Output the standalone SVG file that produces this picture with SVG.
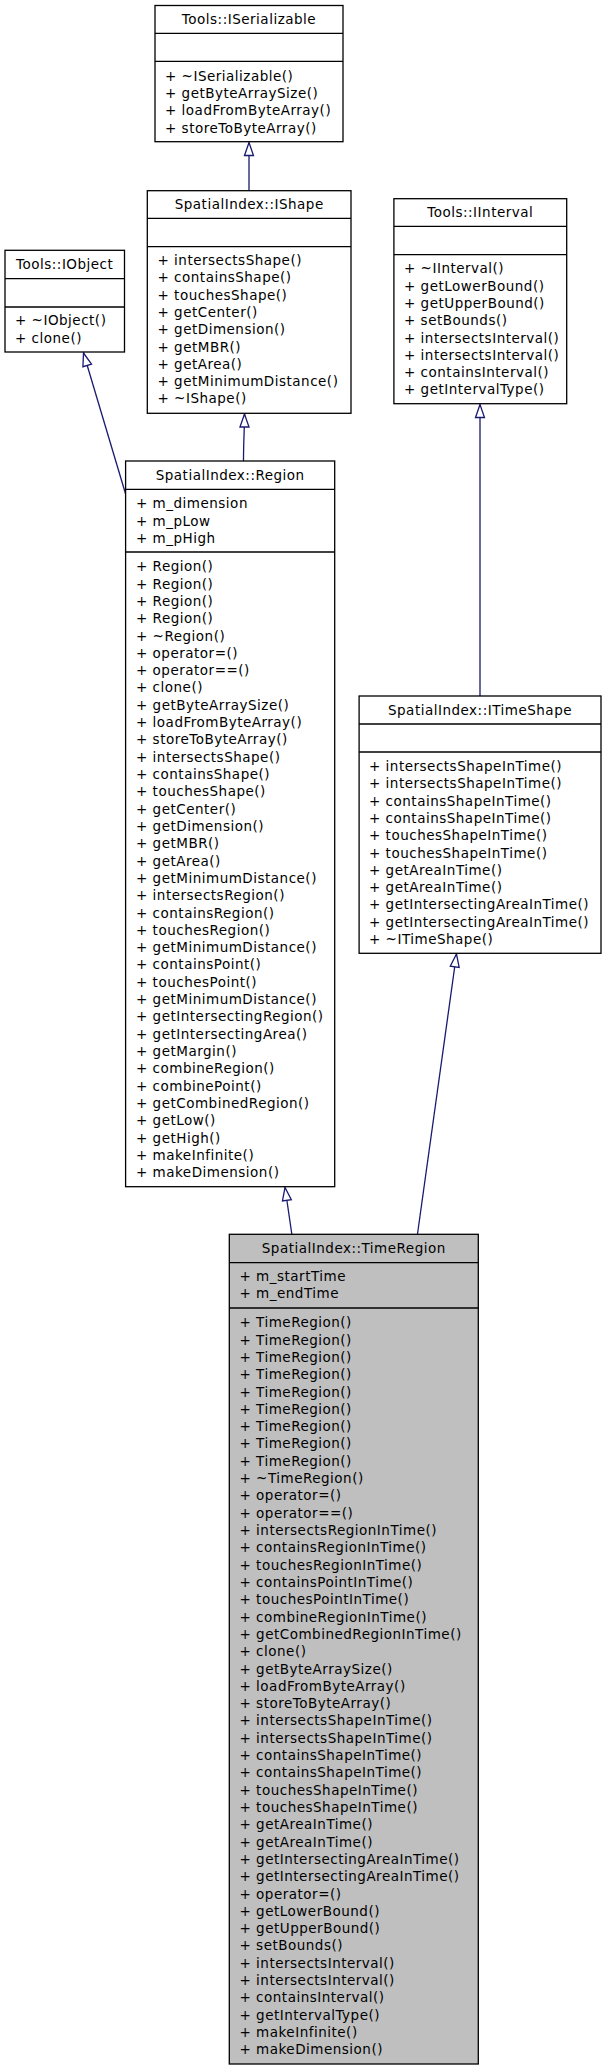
<svg xmlns="http://www.w3.org/2000/svg" width="603" height="2069" viewBox="0 0 603 2069">
<style>
.box{fill:#ffffff;stroke:#000000;stroke-width:1.3}
.grey{fill:#bfbfbf}
.sep{stroke:#000000;stroke-width:1.3}
text{font-family:"DejaVu Sans","Liberation Sans",sans-serif;font-size:13.5px;letter-spacing:0.5px;fill:#000000}
.ttl{text-anchor:middle}
.edge{fill:none;stroke:#191970;stroke-width:1.3;marker-end:url(#inh)}
</style>
<defs>
<marker id="inh" markerUnits="userSpaceOnUse" markerWidth="16" markerHeight="12" viewBox="0 0 16 12" refX="14" refY="6" orient="auto">
<path d="M1,1.5 L14,6 L1,10.5 Z" fill="#ffffff" stroke="#191970" stroke-width="1.3"/>
</marker>
</defs>
<rect width="603" height="2069" fill="#ffffff"/>

<g id="connectors">
<path class="edge" d="M249,190.7 L249,142.5"/>
<path class="edge" d="M125.6,494 L83.5,353"/>
<path class="edge" d="M243.5,461 C243.5,440 244.5,430 244.5,414"/>
<path class="edge" d="M480,696 L480,404.5"/>
<path class="edge" d="M291.8,1234 L285,1187.5"/>
<path class="edge" d="M417.5,1234 L456.5,954"/>
</g>

<g id="ISerializable">
<rect class="box" x="155" y="5.5" width="188" height="136.2"/>
<line class="sep" x1="155" y1="33.3" x2="343" y2="33.3"/>
<line class="sep" x1="155" y1="61.3" x2="343" y2="61.3"/>
<text class="ttl" x="249" y="24.3">Tools::ISerializable</text>
<text x="165"><tspan x="165" y="80.7">+ ~ISerializable()</tspan><tspan x="165" dy="17.31">+ getByteArraySize()</tspan><tspan x="165" dy="17.31">+ loadFromByteArray()</tspan><tspan x="165" dy="17.31">+ storeToByteArray()</tspan></text>
</g>

<g id="IShape">
<rect class="box" x="147.3" y="190.7" width="203.7" height="222.6"/>
<line class="sep" x1="147.3" y1="218.3" x2="351" y2="218.3"/>
<line class="sep" x1="147.3" y1="246.7" x2="351" y2="246.7"/>
<text class="ttl" x="249.2" y="209">SpatialIndex::IShape</text>
<text><tspan x="157.5" y="265">+ intersectsShape()</tspan><tspan x="157.5" dy="17.31">+ containsShape()</tspan><tspan x="157.5" dy="17.31">+ touchesShape()</tspan><tspan x="157.5" dy="17.31">+ getCenter()</tspan><tspan x="157.5" dy="17.31">+ getDimension()</tspan><tspan x="157.5" dy="17.31">+ getMBR()</tspan><tspan x="157.5" dy="17.31">+ getArea()</tspan><tspan x="157.5" dy="17.31">+ getMinimumDistance()</tspan><tspan x="157.5" dy="17.31">+ ~IShape()</tspan></text>
</g>

<g id="IObject">
<rect class="box" x="5" y="250.3" width="119.5" height="101.7"/>
<line class="sep" x1="5" y1="278.7" x2="124.5" y2="278.7"/>
<line class="sep" x1="5" y1="307" x2="124.5" y2="307"/>
<text class="ttl" x="64.7" y="269">Tools::IObject</text>
<text><tspan x="15" y="325.3">+ ~IObject()</tspan><tspan x="15" dy="17.31">+ clone()</tspan></text>
</g>

<g id="IInterval">
<rect class="box" x="393.9" y="198.7" width="172.8" height="205"/>
<line class="sep" x1="393.9" y1="226.3" x2="566.7" y2="226.3"/>
<line class="sep" x1="393.9" y1="254.7" x2="566.7" y2="254.7"/>
<text class="ttl" x="480.3" y="217.3">Tools::IInterval</text>
<text><tspan x="404" y="273.3">+ ~IInterval()</tspan><tspan x="404" dy="17.31">+ getLowerBound()</tspan><tspan x="404" dy="17.31">+ getUpperBound()</tspan><tspan x="404" dy="17.31">+ setBounds()</tspan><tspan x="404" dy="17.31">+ intersectsInterval()</tspan><tspan x="404" dy="17.31">+ intersectsInterval()</tspan><tspan x="404" dy="17.31">+ containsInterval()</tspan><tspan x="404" dy="17.31">+ getIntervalType()</tspan></text>
</g>

<g id="Region">
<rect class="box" x="125.6" y="461" width="209.1" height="725.7"/>
<line class="sep" x1="125.6" y1="489.3" x2="334.7" y2="489.3"/>
<line class="sep" x1="125.6" y1="552" x2="334.7" y2="552"/>
<text class="ttl" x="230.2" y="480">SpatialIndex::Region</text>
<text><tspan x="136" y="508.3">+ m_dimension</tspan><tspan x="136" dy="17.31">+ m_pLow</tspan><tspan x="136" dy="17.31">+ m_pHigh</tspan></text>
<text><tspan x="136" y="571.3">+ Region()</tspan><tspan x="136" dy="17.31">+ Region()</tspan><tspan x="136" dy="17.31">+ Region()</tspan><tspan x="136" dy="17.31">+ Region()</tspan><tspan x="136" dy="17.31">+ ~Region()</tspan><tspan x="136" dy="17.31">+ operator=()</tspan><tspan x="136" dy="17.31">+ operator==()</tspan><tspan x="136" dy="17.31">+ clone()</tspan><tspan x="136" dy="17.31">+ getByteArraySize()</tspan><tspan x="136" dy="17.31">+ loadFromByteArray()</tspan><tspan x="136" dy="17.31">+ storeToByteArray()</tspan><tspan x="136" dy="17.31">+ intersectsShape()</tspan><tspan x="136" dy="17.31">+ containsShape()</tspan><tspan x="136" dy="17.31">+ touchesShape()</tspan><tspan x="136" dy="17.31">+ getCenter()</tspan><tspan x="136" dy="17.31">+ getDimension()</tspan><tspan x="136" dy="17.31">+ getMBR()</tspan><tspan x="136" dy="17.31">+ getArea()</tspan><tspan x="136" dy="17.31">+ getMinimumDistance()</tspan><tspan x="136" dy="17.31">+ intersectsRegion()</tspan><tspan x="136" dy="17.31">+ containsRegion()</tspan><tspan x="136" dy="17.31">+ touchesRegion()</tspan><tspan x="136" dy="17.31">+ getMinimumDistance()</tspan><tspan x="136" dy="17.31">+ containsPoint()</tspan><tspan x="136" dy="17.31">+ touchesPoint()</tspan><tspan x="136" dy="17.31">+ getMinimumDistance()</tspan><tspan x="136" dy="17.31">+ getIntersectingRegion()</tspan><tspan x="136" dy="17.31">+ getIntersectingArea()</tspan><tspan x="136" dy="17.31">+ getMargin()</tspan><tspan x="136" dy="17.31">+ combineRegion()</tspan><tspan x="136" dy="17.31">+ combinePoint()</tspan><tspan x="136" dy="17.31">+ getCombinedRegion()</tspan><tspan x="136" dy="17.31">+ getLow()</tspan><tspan x="136" dy="17.31">+ getHigh()</tspan><tspan x="136" dy="17.31">+ makeInfinite()</tspan><tspan x="136" dy="17.31">+ makeDimension()</tspan></text>
</g>

<g id="ITimeShape">
<rect class="box" x="359.1" y="696" width="241.9" height="257.3"/>
<line class="sep" x1="359.1" y1="724" x2="601" y2="724"/>
<line class="sep" x1="359.1" y1="752" x2="601" y2="752"/>
<text class="ttl" x="480" y="715">SpatialIndex::ITimeShape</text>
<text><tspan x="369" y="771">+ intersectsShapeInTime()</tspan><tspan x="369" dy="17.31">+ intersectsShapeInTime()</tspan><tspan x="369" dy="17.31">+ containsShapeInTime()</tspan><tspan x="369" dy="17.31">+ containsShapeInTime()</tspan><tspan x="369" dy="17.31">+ touchesShapeInTime()</tspan><tspan x="369" dy="17.31">+ touchesShapeInTime()</tspan><tspan x="369" dy="17.31">+ getAreaInTime()</tspan><tspan x="369" dy="17.31">+ getAreaInTime()</tspan><tspan x="369" dy="17.31">+ getIntersectingAreaInTime()</tspan><tspan x="369" dy="17.31">+ getIntersectingAreaInTime()</tspan><tspan x="369" dy="17.31">+ ~ITimeShape()</tspan></text>
</g>

<g id="TimeRegion">
<rect class="box grey" x="229.3" y="1234.3" width="249" height="829.7"/>
<line class="sep" x1="229.3" y1="1262.7" x2="478.3" y2="1262.7"/>
<line class="sep" x1="229.3" y1="1308" x2="478.3" y2="1308"/>
<text class="ttl" x="353.8" y="1252.7">SpatialIndex::TimeRegion</text>
<text><tspan x="239.5" y="1281">+ m_startTime</tspan><tspan x="239.5" dy="17.31">+ m_endTime</tspan></text>
<text><tspan x="239.5" y="1327.3">+ TimeRegion()</tspan><tspan x="239.5" dy="17.31">+ TimeRegion()</tspan><tspan x="239.5" dy="17.31">+ TimeRegion()</tspan><tspan x="239.5" dy="17.31">+ TimeRegion()</tspan><tspan x="239.5" dy="17.31">+ TimeRegion()</tspan><tspan x="239.5" dy="17.31">+ TimeRegion()</tspan><tspan x="239.5" dy="17.31">+ TimeRegion()</tspan><tspan x="239.5" dy="17.31">+ TimeRegion()</tspan><tspan x="239.5" dy="17.31">+ TimeRegion()</tspan><tspan x="239.5" dy="17.31">+ ~TimeRegion()</tspan><tspan x="239.5" dy="17.31">+ operator=()</tspan><tspan x="239.5" dy="17.31">+ operator==()</tspan><tspan x="239.5" dy="17.31">+ intersectsRegionInTime()</tspan><tspan x="239.5" dy="17.31">+ containsRegionInTime()</tspan><tspan x="239.5" dy="17.31">+ touchesRegionInTime()</tspan><tspan x="239.5" dy="17.31">+ containsPointInTime()</tspan><tspan x="239.5" dy="17.31">+ touchesPointInTime()</tspan><tspan x="239.5" dy="17.31">+ combineRegionInTime()</tspan><tspan x="239.5" dy="17.31">+ getCombinedRegionInTime()</tspan><tspan x="239.5" dy="17.31">+ clone()</tspan><tspan x="239.5" dy="17.31">+ getByteArraySize()</tspan><tspan x="239.5" dy="17.31">+ loadFromByteArray()</tspan><tspan x="239.5" dy="17.31">+ storeToByteArray()</tspan><tspan x="239.5" dy="17.31">+ intersectsShapeInTime()</tspan><tspan x="239.5" dy="17.31">+ intersectsShapeInTime()</tspan><tspan x="239.5" dy="17.31">+ containsShapeInTime()</tspan><tspan x="239.5" dy="17.31">+ containsShapeInTime()</tspan><tspan x="239.5" dy="17.31">+ touchesShapeInTime()</tspan><tspan x="239.5" dy="17.31">+ touchesShapeInTime()</tspan><tspan x="239.5" dy="17.31">+ getAreaInTime()</tspan><tspan x="239.5" dy="17.31">+ getAreaInTime()</tspan><tspan x="239.5" dy="17.31">+ getIntersectingAreaInTime()</tspan><tspan x="239.5" dy="17.31">+ getIntersectingAreaInTime()</tspan><tspan x="239.5" dy="17.31">+ operator=()</tspan><tspan x="239.5" dy="17.31">+ getLowerBound()</tspan><tspan x="239.5" dy="17.31">+ getUpperBound()</tspan><tspan x="239.5" dy="17.31">+ setBounds()</tspan><tspan x="239.5" dy="17.31">+ intersectsInterval()</tspan><tspan x="239.5" dy="17.31">+ intersectsInterval()</tspan><tspan x="239.5" dy="17.31">+ containsInterval()</tspan><tspan x="239.5" dy="17.31">+ getIntervalType()</tspan><tspan x="239.5" dy="17.31">+ makeInfinite()</tspan><tspan x="239.5" dy="17.31">+ makeDimension()</tspan></text>
</g>
</svg>
